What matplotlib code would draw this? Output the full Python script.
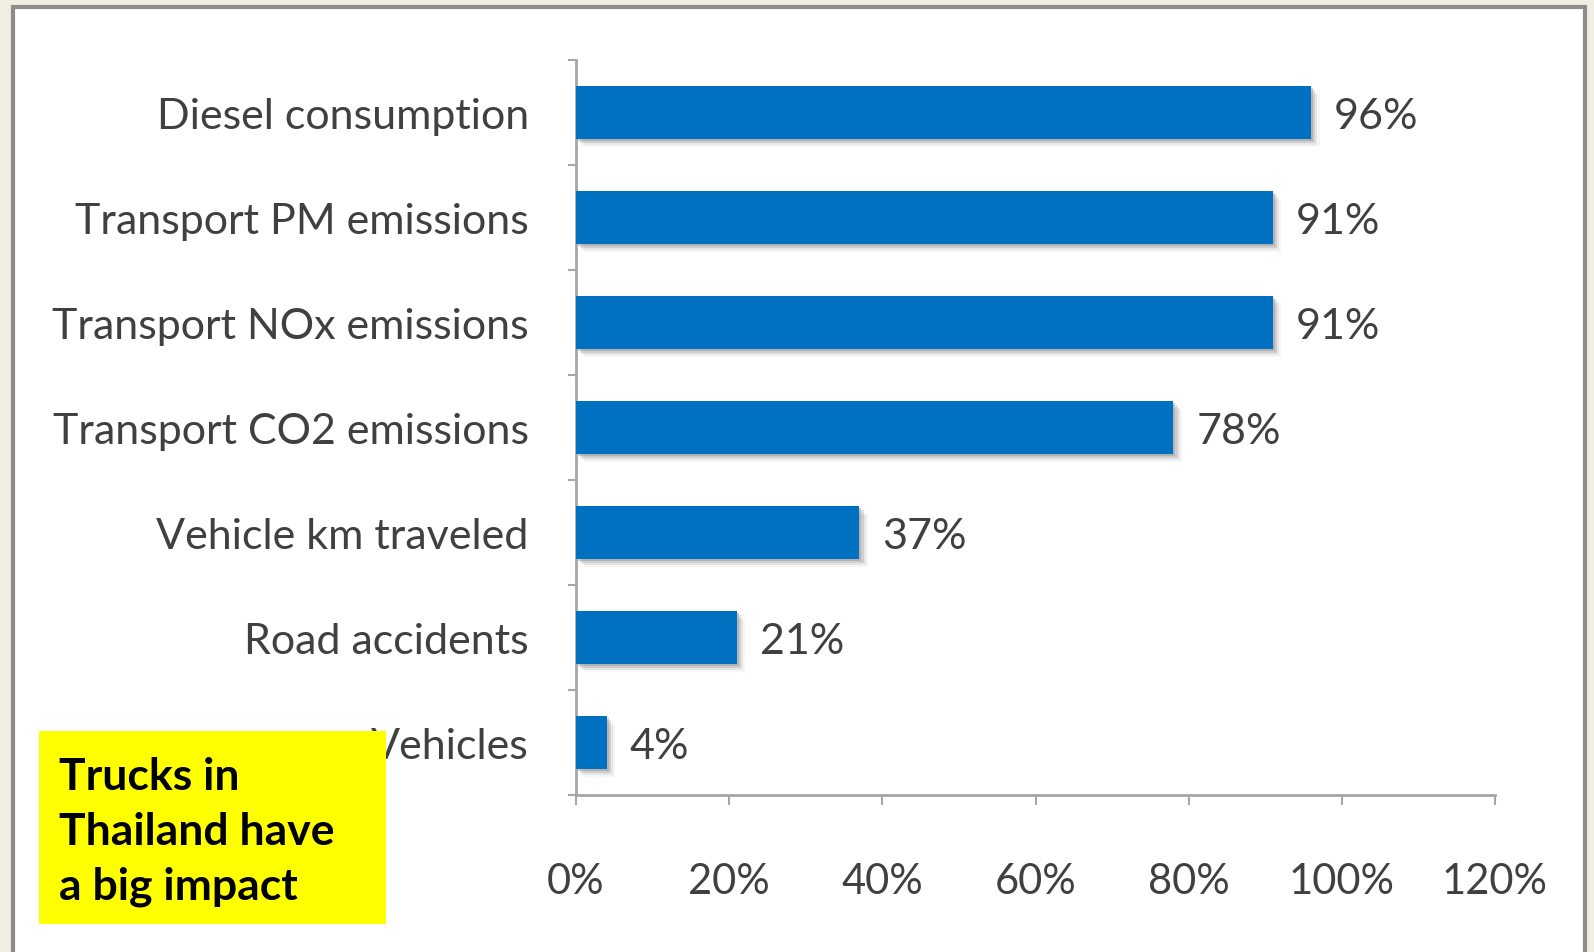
import matplotlib.pyplot as plt
import matplotlib.patheffects as pe
from matplotlib.patches import Rectangle
from matplotlib.ticker import FixedLocator

categories = ["Diesel consumption", "Transport PM emissions", "Transport NOx emissions",
              "Transport CO2 emissions", "Vehicle km traveled", "Road accidents", "Vehicles"]
shares = [96, 91, 91, 78, 37, 21, 4]
x_ticks = [0, 20, 40, 60, 80, 100, 120]
note = "Trucks in\nThailand have\na big impact"

BAR = "#0070C0"
TXT = "#404040"
AXIS = "#A6A6A6"

plt.rcParams["font.family"] = ["Lato", "DejaVu Sans"]

fig = plt.figure(figsize=(15.94, 9.53), dpi=100)
fig.patch.set_facecolor("#EFEEE1")

# white slide panel with grey frame
top = 1 - 8 / 953
fig.patches.append(Rectangle((13 / 1594, -0.01), 1572 / 1594, top + 0.01,
                             transform=fig.transFigure, facecolor="white",
                             edgecolor="#8C8C8C", linewidth=3, zorder=-2))

ax = fig.add_axes([576 / 1594, 1 - 796 / 953, 919 / 1594, 735 / 953])
ax.set_facecolor("none")

ypos = list(range(len(categories)))
shadow = [pe.SimplePatchShadow(offset=(1.5, -1.5), shadow_rgbFace="#8A8A8A", alpha=0.4),
          pe.SimplePatchShadow(offset=(3, -3), shadow_rgbFace="#8A8A8A", alpha=0.25),
          pe.SimplePatchShadow(offset=(4.5, -4.5), shadow_rgbFace="#8A8A8A", alpha=0.15),
          pe.SimplePatchShadow(offset=(6, -6), shadow_rgbFace="#8A8A8A", alpha=0.07),
          pe.Normal()]
bars = ax.barh(ypos, shares, height=0.5, color=BAR, zorder=3)
for b in bars:
    b.set_path_effects(shadow)

for y, v in zip(ypos, shares):
    ax.text(v + 3, y + 0.03, f"{v}%", va="center", ha="left", fontsize=31, color=TXT)

ax.set_xlim(0, 120)
ax.set_ylim(len(categories) - 0.5, -0.5)
ax.set_xticks(x_ticks)
ax.set_xticklabels([f"{t}%" for t in x_ticks])
ax.set_yticks(ypos)
ax.set_yticklabels(categories)
ax.yaxis.set_minor_locator(FixedLocator([i - 0.5 for i in range(len(categories) + 1)]))

for s in ["top", "right"]:
    ax.spines[s].set_visible(False)
for s in ["left", "bottom"]:
    ax.spines[s].set_color(AXIS)
    ax.spines[s].set_linewidth(2)

ax.tick_params(axis="y", which="major", length=0, pad=34, labelsize=31, labelcolor=TXT)
ax.tick_params(axis="y", which="minor", length=6, width=1.5, color=AXIS)
ax.tick_params(axis="x", length=7, width=1.5, color=AXIS, pad=41, labelsize=30, labelcolor=TXT)

# yellow callout box over the lower-left corner
fig.patches.append(Rectangle((39 / 1594, 1 - 925 / 953), 347 / 1594, 193 / 953,
                             transform=fig.transFigure, facecolor="#FFFF00",
                             edgecolor="none", zorder=5))
fig.text(59 / 1594, 1 - 757 / 953, note, ha="left", va="top", fontsize=32,
         fontweight="bold", color="black", linespacing=1.45, zorder=6)

fig.savefig("out.png", dpi=100, facecolor=fig.get_facecolor())
